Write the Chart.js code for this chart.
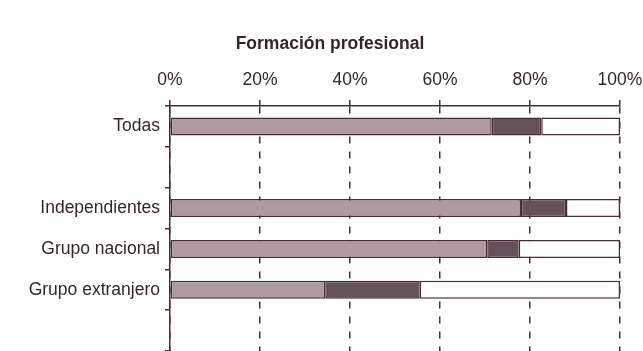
<!DOCTYPE html>
<html>
<head>
<meta charset="utf-8">
<script src="https://cdn.jsdelivr.net/npm/chart.js@4"></script>
<style>
  html, body { margin: 0; padding: 0; background: #fff; }
  #wrap { width: 643px; height: 351px; }
</style>
</head>
<body>
<div id="wrap"><canvas id="chart" width="643" height="351"></canvas></div>
<script>
// Data (percent of each group)
const categories = ['Todas', '', 'Independientes', 'Grupo nacional', 'Grupo extranjero', ''];
const part1 = [71.5, null, 78, 70.5, 34.5, null];   // light segment
const part2 = [11, null, 10, 7, 21, null];          // dark segment
const part3 = [17.5, null, 12, 22.5, 44.5, null];   // remainder (white)
const xTicks = [0, 20, 40, 60, 80, 100];
const chartTitle = 'Formación profesional';

const ink = '#4a2a35';
const textInk = '#33262b';
const fontFamily = 'Liberation Sans, Arial, sans-serif';

function seg(data, fill) {
    return {
        data: data,
        backgroundColor: fill,
        borderColor: ink,
        borderWidth: 1.5,
        borderSkipped: false,
        barPercentage: 0.44,
        categoryPercentage: 1
    };
}

// title sits off-centre in the original, so draw it by hand
const titlePlugin = {
    id: 'offTitle',
    afterDraw(chart) {
        const c = chart.ctx;
        c.save();
        c.font = 'bold 17.5px ' + fontFamily;
        c.fillStyle = textInk;
        c.textAlign = 'center';
        c.textBaseline = 'middle';
        c.fillText(chartTitle, 330, 44);
        c.restore();
    }
};

function noPad(scale) {
    scale.paddingTop = 0;
    scale.paddingBottom = 0;
    scale.paddingLeft = 0;
    scale.paddingRight = 0;
}

new Chart(document.getElementById('chart'), {
    type: 'bar',
    data: {
        labels: categories,
        datasets: [
            seg(part1, '#ad999f'),
            seg(part2, '#64525a'),
            seg(part3, '#ffffff')
        ]
    },
    plugins: [titlePlugin],
    options: {
        indexAxis: 'y',
        responsive: false,
        animation: false,
        layout: { padding: { left: 0, right: 23, top: 71, bottom: 0 } },
        plugins: {
            legend: { display: false },
            tooltip: { enabled: false },
            title: { display: false }
        },
        scales: {
            x: {
                position: 'top',
                stacked: true,
                min: 0,
                max: 100,
                afterBuildTicks: (axis) => { axis.ticks = xTicks.map(v => ({ value: v })); },
                afterFit: (scale) => { noPad(scale); scale.height = 35; },
                ticks: {
                    callback: (v) => v + '%',
                    color: textInk,
                    font: { family: fontFamily, size: 17.5 },
                    padding: 9,
                    maxRotation: 0
                },
                grid: {
                    color: ink,
                    lineWidth: 1.5,
                    tickLength: 6,
                    tickColor: ink
                },
                border: { display: true, color: ink, width: 1.5, dash: [7, 8] }
            },
            y: {
                stacked: true,
                afterFit: (scale) => { noPad(scale); scale.width = 170; },
                ticks: {
                    color: textInk,
                    font: { family: fontFamily, size: 17.5 },
                    padding: 5
                },
                grid: {
                    drawOnChartArea: false,
                    tickLength: 5,
                    color: ink,
                    lineWidth: 1.5
                },
                border: { display: true, color: ink, width: 1.5 }
            }
        }
    }
});
</script>
</body>
</html>
